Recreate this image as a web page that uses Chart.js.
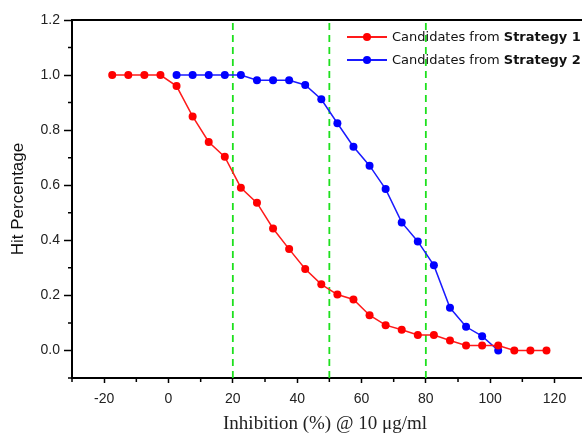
<!DOCTYPE html>
<html>
<head>
<meta charset="utf-8">
<script src="https://cdn.jsdelivr.net/npm/chart.js@4/dist/chart.umd.min.js"></script>
<style>
  html, body { margin: 0; padding: 0; background: #fff; overflow: hidden; }
  #wrap { position: relative; width: 582px; height: 435px; }
  #legend { position: absolute; left: 347px; top: 26px; font: 13px "DejaVu Sans", Verdana, sans-serif; color: #111; }
  .row { position: relative; height: 23px; line-height: 21px; padding-left: 45px; white-space: nowrap; }
  .row .ln { position: absolute; left: 0; top: 10px; width: 40px; height: 1.5px; }
  .row .dot { position: absolute; left: 16px; top: 7px; width: 8px; height: 8px; border-radius: 50%; }
</style>
</head>
<body>
<div id="wrap">
  <canvas id="chart" width="582" height="435"></canvas>
  <div id="legend">
    <div class="row"><span class="ln" style="background:#ff1a1a"></span><span class="dot" style="background:#ff0000"></span>Candidates from <b>Strategy 1</b></div>
    <div class="row"><span class="ln" style="background:#1a1aff"></span><span class="dot" style="background:#0000ff"></span>Candidates from <b>Strategy 2</b></div>
  </div>
</div>
<script>
const strategy1X = [-17.5, -12.5, -7.5, -2.5, 2.5, 7.5, 12.5, 17.5, 22.5, 27.5, 32.5, 37.5, 42.5, 47.5,
  52.5, 57.5, 62.5, 67.5, 72.5, 77.5, 82.5, 87.5, 92.5, 97.5, 102.5, 107.5, 112.5, 117.5];
const strategy1Y = [1, 1, 1, 1, 0.96, 0.85, 0.757, 0.703, 0.591, 0.536, 0.443, 0.368, 0.296, 0.24,
  0.203, 0.185, 0.128, 0.092, 0.075, 0.056, 0.056, 0.036, 0.018, 0.018, 0.018, 0, 0, 0];

const strategy2X = [2.5, 7.5, 12.5, 17.5, 22.5, 27.5, 32.5, 37.5, 42.5, 47.5, 52.5, 57.5, 62.5, 67.5,
  72.5, 77.5, 82.5, 87.5, 92.5, 97.5, 102.5];
const strategy2Y = [1, 1, 1, 1, 1, 0.981, 0.981, 0.981, 0.964, 0.912, 0.825, 0.74, 0.671, 0.586,
  0.465, 0.396, 0.309, 0.155, 0.086, 0.052, 0];

const cutoffLines = [20, 50, 80];
const xMin = -30, xMax = 127.3;
const yMin = -0.1, yMax = 1.2;

function toPoints(xs, ys) {
  return xs.map((x, i) => ({ x, y: ys[i] }));
}

function isMultiple(v, step) {
  return Math.abs(v / step - Math.round(v / step)) < 1e-6;
}

const tickFont = { family: "'Liberation Sans', Arial, sans-serif", size: 14 };

// short minor ticks + the top frame line
const frameExtras = {
  id: "frameExtras",
  afterDraw(chart) {
    const { ctx, chartArea, scales: { x, y } } = chart;
    ctx.save();
    ctx.strokeStyle = "#000";
    ctx.lineWidth = 1.5;
    ctx.beginPath();
    x.ticks.forEach((t) => {
      if (isMultiple(t.value, 10) && !isMultiple(t.value, 20)) {
        const px = x.getPixelForValue(t.value);
        ctx.moveTo(px, chartArea.bottom);
        ctx.lineTo(px, chartArea.bottom + 4);
      }
    });
    y.ticks.forEach((t) => {
      if (isMultiple(t.value, 0.1) && !isMultiple(t.value, 0.2)) {
        const py = y.getPixelForValue(t.value);
        ctx.moveTo(chartArea.left, py);
        ctx.lineTo(chartArea.left - 4, py);
      }
    });
    ctx.stroke();
    ctx.lineWidth = 2;
    ctx.beginPath();
    ctx.moveTo(chartArea.left, chartArea.top);
    ctx.lineTo(chart.width, chartArea.top);
    ctx.moveTo(chartArea.right - 1, chartArea.bottom);
    ctx.lineTo(chart.width, chartArea.bottom);
    ctx.stroke();
    ctx.restore();
  },
};

const datasets = [
  {
    data: toPoints(strategy1X, strategy1Y),
    borderColor: "#ff1a1a",
    backgroundColor: "#ff0000",
    borderWidth: 1.5,
    pointRadius: 4,
    pointBorderWidth: 0,
    order: 1,
  },
  {
    data: toPoints(strategy2X, strategy2Y),
    borderColor: "#1a1aff",
    backgroundColor: "#0000ff",
    borderWidth: 1.5,
    pointRadius: 4,
    pointBorderWidth: 0,
    order: 2,
  },
];

cutoffLines.forEach((v) => {
  datasets.push({
    data: [{ x: v, y: yMin }, { x: v, y: yMax }],
    borderColor: "#1ee01e",
    borderWidth: 1.8,
    borderDash: [7, 5],
    pointRadius: 0,
    order: 3,
  });
});

new Chart(document.getElementById("chart"), {
  type: "line",
  data: { datasets },
  options: {
    responsive: false,
    animation: false,
    layout: { padding: { top: 20, right: 0, left: 0, bottom: 0 } },
    plugins: { legend: { display: false }, tooltip: { enabled: false } },
    scales: {
      x: {
        type: "linear",
        min: xMin,
        max: xMax,
        afterFit: (scale) => { scale.height = 57; },
        border: { color: "#000", width: 2 },
        grid: {
          drawOnChartArea: false,
          tickLength: 5,
          tickWidth: 1.5,
          tickColor: (c) => (c.tick && isMultiple(c.tick.value, 20) ? "#000" : "rgba(0,0,0,0)"),
        },
        ticks: {
          stepSize: 10,
          includeBounds: false,
          autoSkip: false,
          maxRotation: 0,
          padding: 8,
          color: "#222",
          font: tickFont,
          callback: (v) => (isMultiple(v, 20) ? String(Math.round(v)) : ""),
        },
        title: {
          display: true,
          text: "Inhibition (%) @ 10 μg/ml",
          color: "#222",
          font: { family: "'Liberation Serif', 'Times New Roman', serif", size: 19 },
          padding: { top: 0, bottom: 0 },
        },
      },
      y: {
        min: yMin,
        max: yMax,
        afterFit: (scale) => { scale.width = 72; },
        border: { color: "#000", width: 2 },
        grid: {
          drawOnChartArea: false,
          tickLength: 8,
          tickWidth: 1.5,
          tickColor: (c) => (c.tick && isMultiple(c.tick.value, 0.2) ? "#000" : "rgba(0,0,0,0)"),
        },
        ticks: {
          stepSize: 0.1,
          autoSkip: false,
          padding: 4,
          color: "#222",
          font: tickFont,
          callback: (v) => (isMultiple(v, 0.2) ? Math.abs(v).toFixed(1) : ""),
        },
        title: {
          display: true,
          text: "Hit Percentage",
          color: "#111",
          font: { family: "'Liberation Sans', Arial, sans-serif", size: 17 },
          padding: { top: 8, bottom: 0 },
        },
      },
    },
  },
  plugins: [frameExtras],
});
</script>
</body>
</html>
